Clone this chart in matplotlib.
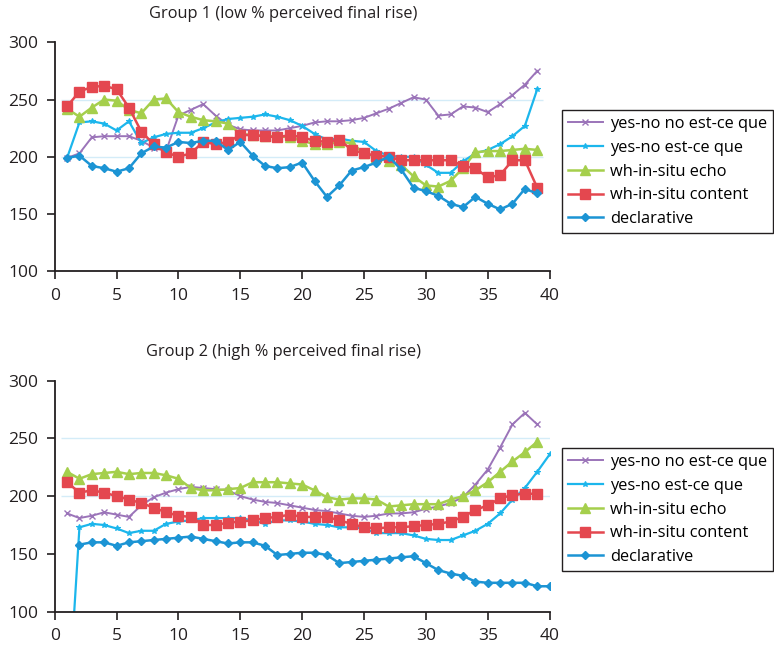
import numpy as np
import matplotlib
matplotlib.use("Agg")
import matplotlib.pyplot as plt

plt.rcParams['font.family'] = ['Open Sans', 'DejaVu Sans']

labels = ["yes-no no est-ce que", "yes-no est-ce que", "wh-in-situ echo",
          "wh-in-situ content", "declarative"]

# Group 1 (x = 1..39)
g1_yesno_no = [199, 203, 217, 218, 218, 218, 214, 208, 205, 236, 241, 246, 236, 228, 224,
               223, 223, 223, 225, 227, 230, 231, 231, 232, 234, 238, 242, 247, 252, 250,
               236, 237, 244, 243, 239, 246, 254, 263, 275]
g1_yesno = [199, 230, 231, 229, 223, 231, 212, 217, 220, 221, 221, 225, 230, 233, 234,
            235, 237, 235, 232, 227, 220, 215, 216, 214, 213, 205, 201, 200, 200, 193,
            186, 186, 196, 203, 206, 211, 218, 227, 259]
g1_echo = [242, 235, 243, 250, 249, 241, 238, 250, 251, 239, 235, 232, 231, 229, 220,
           219, 218, 218, 217, 214, 211, 211, 213, 212, 203, 200, 196, 193, 183, 175,
           174, 179, 190, 204, 205, 205, 206, 207, 206]
g1_content = [244, 257, 261, 262, 259, 243, 222, 211, 204, 200, 203, 213, 211, 213, 219,
              219, 218, 217, 219, 217, 214, 213, 215, 206, 203, 201, 200, 197, 197, 197,
              197, 197, 192, 190, 182, 184, 197, 197, 173]
g1_decl = [199, 201, 192, 190, 187, 190, 203, 209, 208, 213, 212, 214, 214, 206, 213,
           201, 192, 190, 191, 195, 179, 165, 175, 188, 191, 195, 200, 189, 173, 170,
           166, 159, 156, 165, 159, 154, 159, 172, 168]

# Group 2 (x = 1..39 or 1..40)
g2_yesno_no = [185, 181, 183, 186, 184, 182, 192, 199, 203, 206, 208, 207, 206, 205, 200,
               197, 195, 194, 192, 190, 188, 187, 185, 183, 182, 183, 185, 185, 186, 189,
               191, 194, 199, 210, 223, 242, 262, 272, 262]
g2_yesno = [0, 173, 176, 175, 172, 168, 170, 170, 176, 178, 179, 181, 181, 181, 181,
            179, 176, 179, 179, 178, 176, 175, 173, 173, 172, 168, 168, 168, 166, 163,
            162, 162, 166, 170, 176, 185, 197, 207, 221, 236]
g2_echo = [221, 215, 219, 220, 221, 219, 220, 220, 218, 215, 207, 205, 205, 206, 207,
           212, 212, 212, 211, 210, 205, 199, 197, 198, 198, 197, 191, 192, 193, 193,
           193, 197, 200, 205, 212, 221, 230, 238, 247]
g2_content = [212, 203, 205, 203, 200, 197, 194, 190, 186, 183, 182, 175, 175, 177, 178,
              179, 181, 182, 184, 182, 182, 182, 179, 176, 173, 172, 173, 173, 174, 175,
              176, 178, 182, 188, 192, 198, 201, 202, 202]
g2_decl = [np.nan, 158, 160, 160, 157, 160, 161, 162, 163, 164, 165, 163, 161, 159, 160,
           160, 157, 149, 150, 151, 151, 149, 142, 143, 144, 145, 146, 147, 148, 142,
           136, 133, 131, 126, 125, 125, 125, 125, 122, 122]

styles = [
    dict(color='#9b74b9', marker='x', ms=4, mew=1.0, lw=1.4),
    dict(color='#1cb6ec', marker='*', ms=4, mew=0.8, lw=1.6),
    dict(color='#a5cf4c', marker='^', ms=7, lw=1.8),
    dict(color='#e4474f', marker='s', ms=7, lw=1.8),
    dict(color='#1c94d4', marker='D', ms=4.5, lw=1.8),
]

W, H = 774, 649
fig = plt.figure(figsize=(W / 100, H / 100), dpi=100)

ax1 = fig.add_axes([54.7 / W, 1 - 271.3 / H, 494.9 / W, 229.0 / H])
ax2 = fig.add_axes([54.7 / W, 1 - 611.7 / H, 494.9 / W, 231.2 / H])


def draw(ax, data, title, title_y, grid_end, leg_top):
    ax.hlines([200, 250], 0.5, grid_end, colors='#d4ecf8', lw=1.0, zorder=0)
    for vals, lab, st in zip(data, labels, styles):
        xs = np.arange(1, len(vals) + 1)
        ax.plot(xs, vals, label=lab, **st)
    ax.set_xlim(0, 40)
    ax.set_ylim(100, 300)
    ax.set_xticks(range(0, 41, 5))
    ax.set_yticks(range(100, 301, 50))
    for s in ['top', 'right']:
        ax.spines[s].set_visible(False)
    for s in ['left', 'bottom']:
        ax.spines[s].set_linewidth(1.3)
        ax.spines[s].set_color('#231f20')
    ax.tick_params(direction='out', length=6, width=1.2, labelsize=12.5,
                   colors='#231f20')
    ax.tick_params(axis='y', pad=6)
    ax.tick_params(axis='x', pad=6)
    fig.text(283 / W, 1 - title_y / H, title, ha='center', va='center',
             fontsize=11.8, color='#231f20')
    leg = ax.legend(loc='upper left', bbox_to_anchor=(562 / W, 1 - leg_top / H),
                    bbox_transform=fig.transFigure, frameon=True, fancybox=False,
                    edgecolor='#231f20', framealpha=1, fontsize=11.8,
                    handlelength=2.1, borderpad=0.38, labelspacing=0.47,
                    handletextpad=0.45, borderaxespad=0)
    leg.get_frame().set_linewidth(1.0)


draw(ax1, [g1_yesno_no, g1_yesno, g1_echo, g1_content, g1_decl],
     "Group 1 (low % perceived final rise)", 14, 39.5, 110)
draw(ax2, [g2_yesno_no, g2_yesno, g2_echo, g2_content, g2_decl],
     "Group 2 (high % perceived final rise)", 352, 40, 448)

fig.savefig("out.png", dpi=100)
